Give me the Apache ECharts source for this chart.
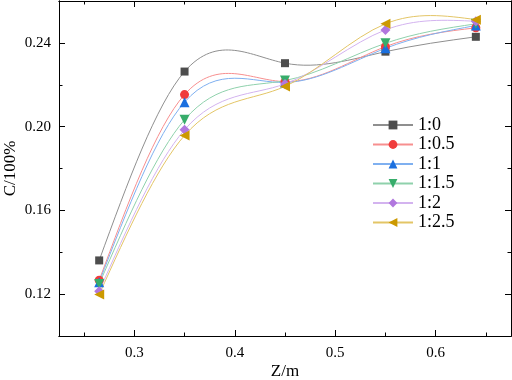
<!DOCTYPE html>
<html>
<head>
<meta charset="utf-8">
<script src="https://cdn.jsdelivr.net/npm/echarts@6/dist/echarts.min.js"></script>
<style>
  html, body { margin: 0; padding: 0; background: #fff; }
  #main { width: 512px; height: 380px; }
</style>
</head>
<body>
<div id="main"></div>
<script>
// data
const zValues = [0.265, 0.35, 0.45, 0.55, 0.64]
const names = ['1:0', '1:0.5', '1:1', '1:1.5', '1:2', '1:2.5']
const c_1_0   = [0.1361, 0.2263, 0.2303, 0.2358, 0.2429]
const c_1_05  = [0.1266, 0.2153, 0.2215, 0.2382, 0.2472]
const c_1_1   = [0.1257, 0.2117, 0.2211, 0.2374, 0.2483]
const c_1_15  = [0.1248, 0.2033, 0.2220, 0.2398, 0.2491]
const c_1_2   = [0.1214, 0.1985, 0.2204, 0.2462, 0.2503]
const c_1_25  = [0.1198, 0.1958, 0.2192, 0.2491, 0.2511]
const xMajor = [0.3, 0.4, 0.5, 0.6]
const xMinor = [0.25, 0.35, 0.45, 0.55, 0.65]
const yMajor = [0.12, 0.16, 0.20, 0.24]
const yMinor = [0.14, 0.18, 0.22]

const allSeries = [c_1_0, c_1_05, c_1_1, c_1_15, c_1_2, c_1_25]
const markColors = ['#4d4d4d', '#f03c3c', '#1a6fdf', '#37ad6b', '#b177de', '#cc9900']
const lineColors = ['#8f8f8f', '#f78f8f', '#7fb0f0', '#8fd1ac', '#d3b3ef', '#e3c566']
const symbols = ['rect', 'circle', 'triangle', 'triangle', 'diamond', 'triangle']
const rotates = [0, 0, 0, 180, 0, 90]
const sizes = [8, 9, 10, 10, 10, 10]

const font = '"Liberation Serif", "DejaVu Serif", serif'

// natural cubic spline through the points, drawn in pixel space
const splineRender = (ys, color) => (params, api) => {
    if (params.dataIndex !== 0) return
    const p = zValues.map((x, i) => api.coord([x, ys[i]]))
    const n = p.length
    const h = [], d = []
    for (let i = 0; i < n - 1; i++) {
        h.push(p[i + 1][0] - p[i][0])
        d.push((p[i + 1][1] - p[i][1]) / h[i])
    }
    const M = new Array(n).fill(0)
    const a = [], b = [], c = [], r = []
    for (let i = 1; i < n - 1; i++) {
        a.push(h[i - 1]); b.push(2 * (h[i - 1] + h[i])); c.push(h[i]); r.push(6 * (d[i] - d[i - 1]))
    }
    const m = b.length
    for (let i = 1; i < m; i++) {
        const w = a[i] / b[i - 1]
        b[i] -= w * c[i - 1]
        r[i] -= w * r[i - 1]
    }
    for (let i = m - 1; i >= 0; i--) {
        M[i + 1] = (r[i] - c[i] * M[i + 2]) / b[i]
    }
    const children = []
    for (let i = 0; i < n - 1; i++) {
        const m0 = d[i] - h[i] * (2 * M[i] + M[i + 1]) / 6
        const m1 = d[i] + h[i] * (M[i] + 2 * M[i + 1]) / 6
        children.push({
            type: 'bezierCurve',
            shape: {
                x1: p[i][0], y1: p[i][1], x2: p[i + 1][0], y2: p[i + 1][1],
                cpx1: p[i][0] + h[i] / 3, cpy1: p[i][1] + m0 * h[i] / 3,
                cpx2: p[i + 1][0] - h[i] / 3, cpy2: p[i + 1][1] - m1 * h[i] / 3
            },
            style: { stroke: color, fill: 'none', lineWidth: 1 }
        })
    }
    return { type: 'group', children }
}

const xAxisOf = (position, ticks, len, label, name) => ({
    type: 'value', min: 0.225, max: 0.675, position,
    name: name || '', nameLocation: 'middle', nameGap: 27, nameMoveOverlap: false,
    nameTextStyle: { fontFamily: font, fontSize: 17, color: '#000' },
    axisLine: { show: true, onZero: false, lineStyle: { color: '#000', width: 1 } },
    axisTick: { show: true, inside: true, length: len, customValues: ticks, lineStyle: { color: '#000' } },
    axisLabel: {
        show: label, customValues: ticks, margin: 10, color: '#000',
        fontFamily: font, fontSize: 15, formatter: v => v.toFixed(1)
    },
    splitLine: { show: false }
})
const yAxisOf = (position, ticks, len, label, name) => ({
    type: 'value', min: 0.10, max: 0.26, position,
    name: name || '', nameLocation: 'middle', nameGap: 40, nameRotate: 90, nameMoveOverlap: false,
    nameTextStyle: { fontFamily: font, fontSize: 17, color: '#000' },
    axisLine: { show: true, onZero: false, lineStyle: { color: '#000', width: 1 } },
    axisTick: { show: true, inside: true, length: len, customValues: ticks, lineStyle: { color: '#000' } },
    axisLabel: {
        show: label, customValues: ticks, margin: 8, color: '#000',
        fontFamily: font, fontSize: 15, formatter: v => v.toFixed(2)
    },
    splitLine: { show: false }
})

const curveSeries = allSeries.map((ys, k) => ({
    name: names[k] + ' curve',
    type: 'custom',
    z: 1,
    silent: true,
    data: zValues.map((x, i) => [x, ys[i]]),
    renderItem: splineRender(ys, lineColors[k])
}))
const markSeries = allSeries.map((ys, k) => ({
    name: names[k],
    type: 'line',
    z: 2,
    data: zValues.map((x, i) => [x, ys[i]]),
    symbol: symbols[k],
    symbolRotate: rotates[k],
    symbolSize: sizes[k],
    itemStyle: { color: markColors[k] },
    lineStyle: { color: lineColors[k], width: 1, opacity: 0 }
}))

const myChart = echarts.init(document.getElementById('main'), null, { renderer: 'canvas' })
myChart.setOption({
    animation: false,
    grid: { left: 59, right: 1, top: 1, bottom: 44, containLabel: false, outerBoundsMode: 'none' },
    xAxis: [
        xAxisOf('bottom', xMajor, 6, true, 'Z/m'),
        xAxisOf('top', xMajor, 6, false),
        xAxisOf('bottom', xMinor, 3.5, false),
        xAxisOf('top', xMinor, 3.5, false)
    ],
    yAxis: [
        yAxisOf('left', yMajor, 6, true, 'C/100%'),
        yAxisOf('right', yMajor, 6, false),
        yAxisOf('left', yMinor, 3.5, false),
        yAxisOf('right', yMinor, 3.5, false)
    ],
    legend: {
        data: names,
        orient: 'vertical',
        left: 367,
        top: 111,
        itemWidth: 40,
        itemHeight: 11,
        itemGap: 1.5,
        textStyle: { fontFamily: font, fontSize: 18, color: '#000', lineHeight: 18 },
        lineStyle: { opacity: 1 }
    },
    series: [...curveSeries, ...markSeries]
})
</script>
</body>
</html>
